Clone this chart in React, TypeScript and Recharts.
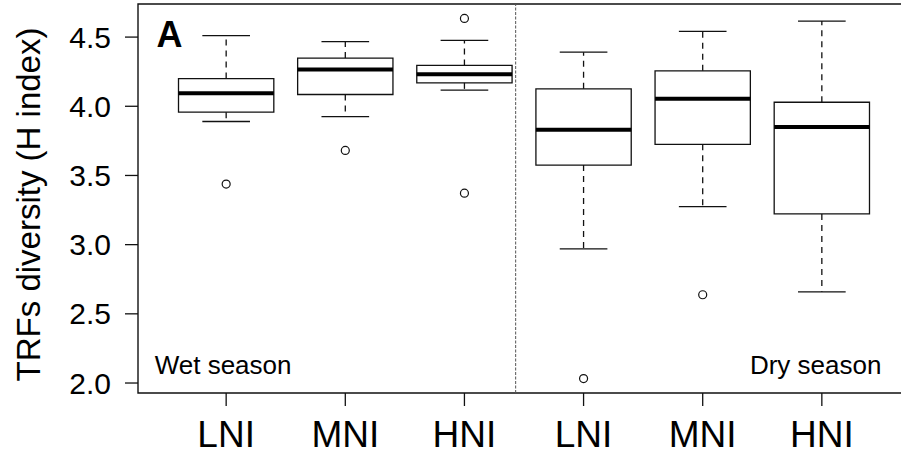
import React from 'react';
import {
  ComposedChart,
  XAxis,
  YAxis,
  Scatter,
  ReferenceArea,
  ReferenceLine,
  ReferenceDot,
} from 'recharts';

// box statistics per group
const groups = ['LNI', 'MNI', 'HNI', 'LNI', 'MNI', 'HNI'];
const positions = [1, 2, 3, 4, 5, 6];
const lowerWhisker = [3.89, 3.925, 4.116, 2.969, 3.275, 2.659];
const q1 = [3.957, 4.085, 4.169, 3.575, 3.725, 3.222];
const median = [4.094, 4.266, 4.232, 3.831, 4.054, 3.851];
const q3 = [4.2, 4.348, 4.295, 4.126, 4.256, 4.029];
const upperWhisker = [4.51, 4.467, 4.476, 4.391, 4.541, 4.616];

const outlierGroup = [1, 2, 3, 3, 4, 5];
const outlierValue = [3.438, 3.681, 4.635, 3.372, 2.032, 2.638];

const yTicks = [2.0, 2.5, 3.0, 3.5, 4.0, 4.5];

const FONT = '"Liberation Sans", Arial, Helvetica, sans-serif';
const INK = '#111';

// R style limits: data range padded by 4%
const allVals = [...lowerWhisker, ...upperWhisker, ...outlierValue];
const yLo = Math.min(...allVals);
const yHi = Math.max(...allVals);
const yPad = (yHi - yLo) * 0.04;
const yDomain = [yLo - yPad, yHi + yPad];
const xDomain = [0.26, 6.74];

const outliers = outlierGroup.map((g, i) => ({ x: g, y: outlierValue[i] }));

const OpenCircle = (props: any) => {
  const { cx, cy } = props;
  if (cx == null || cy == null) return null;
  return <circle cx={cx} cy={cy} r={4} fill="#fff" stroke={INK} strokeWidth={1.2} />;
};

const textAt = (value: string, anchor: string, size: number, weight = 'normal') => (props: any) => {
  const vb = props.viewBox || {};
  const x = (vb.x ?? 0) + (vb.width ?? 0) / 2;
  const y = (vb.y ?? 0) + (vb.height ?? 0) / 2;
  return (
    <text x={x} y={y} textAnchor={anchor} fontSize={size} fontWeight={weight} fontFamily={FONT} fill="#000">
      {value}
    </text>
  );
};

export default function App() {
  return (
    <div
      style={{
        position: 'absolute',
        left: 0,
        top: 0,
        width: 901,
        height: 458,
        overflow: 'hidden',
        background: '#fff',
      }}
    >
      <ComposedChart
        width={930}
        height={458}
        margin={{ top: 4, right: 20, bottom: 0, left: 0 }}
        style={{ fontFamily: FONT }}
      >
        <XAxis
          type="number"
          dataKey="x"
          domain={xDomain}
          ticks={positions}
          interval={0}
          allowDataOverflow
          tickFormatter={(v: number) => groups[v - 1] ?? ''}
          height={65}
          axisLine={false}
          tickLine={{ stroke: INK, strokeWidth: 1.3 }}
          tickSize={13}
          tickMargin={15}
          tick={{ fontSize: 37, fill: '#000', fontFamily: FONT }}
        />
        <YAxis
          type="number"
          dataKey="y"
          domain={yDomain}
          ticks={yTicks}
          interval={0}
          allowDataOverflow
          tickFormatter={(v: number) => v.toFixed(1)}
          width={138}
          axisLine={false}
          tickLine={{ stroke: INK, strokeWidth: 1.3 }}
          tickSize={13}
          tickMargin={14}
          tick={{ fontSize: 30, fill: '#000', fontFamily: FONT }}
          label={{
            value: 'TRFs diversity (H index)',
            angle: -90,
            position: 'center',
            dx: -41,
            dy: 6,
            fontSize: 33,
            fill: '#000',
            fontFamily: FONT,
            style: { textAnchor: 'middle' },
          }}
        />

        {/* plot frame */}
        <ReferenceArea
          x1={xDomain[0]}
          x2={xDomain[1]}
          y1={yDomain[0]}
          y2={yDomain[1]}
          fill="none"
          stroke={INK}
          strokeWidth={1.4}
          ifOverflow="visible"
        />

        {/* season divider */}
        <ReferenceLine x={3.43} stroke="#555" strokeWidth={1} strokeDasharray="3 1.5" />

        {positions.map((p, i) => (
          <ReferenceLine
            key={`wu-${i}`}
            segment={[{ x: p, y: q3[i] }, { x: p, y: upperWhisker[i] }]}
            stroke={INK}
            strokeWidth={1.3}
            strokeDasharray="6 5"
          />
        ))}
        {positions.map((p, i) => (
          <ReferenceLine
            key={`wl-${i}`}
            segment={[{ x: p, y: q1[i] }, { x: p, y: lowerWhisker[i] }]}
            stroke={INK}
            strokeWidth={1.3}
            strokeDasharray="6 5"
          />
        ))}
        {positions.map((p, i) => (
          <ReferenceLine
            key={`cu-${i}`}
            segment={[{ x: p - 0.2, y: upperWhisker[i] }, { x: p + 0.2, y: upperWhisker[i] }]}
            stroke={INK}
            strokeWidth={1.3}
          />
        ))}
        {positions.map((p, i) => (
          <ReferenceLine
            key={`cl-${i}`}
            segment={[{ x: p - 0.2, y: lowerWhisker[i] }, { x: p + 0.2, y: lowerWhisker[i] }]}
            stroke={INK}
            strokeWidth={1.3}
          />
        ))}
        {positions.map((p, i) => (
          <ReferenceArea
            key={`box-${i}`}
            x1={p - 0.4}
            x2={p + 0.4}
            y1={q1[i]}
            y2={q3[i]}
            fill="#fff"
            fillOpacity={1}
            stroke={INK}
            strokeWidth={1.3}
          />
        ))}
        {positions.map((p, i) => (
          <ReferenceLine
            key={`med-${i}`}
            segment={[{ x: p - 0.4, y: median[i] }, { x: p + 0.4, y: median[i] }]}
            stroke="#000"
            strokeWidth={4}
          />
        ))}

        <Scatter data={outliers} dataKey="y" shape={<OpenCircle />} isAnimationActive={false} />

        <ReferenceDot x={0.525} y={4.43} r={1} fill="none" stroke="none"
          label={{ content: textAt('A', 'middle', 36, 'bold') }} />
        <ReferenceDot x={0.4} y={2.068} r={1} fill="none" stroke="none"
          label={{ content: textAt('Wet season', 'start', 26) }} />
        <ReferenceDot x={6.5} y={2.068} r={1} fill="none" stroke="none"
          label={{ content: textAt('Dry season', 'end', 26) }} />
      </ComposedChart>
    </div>
  );
}
